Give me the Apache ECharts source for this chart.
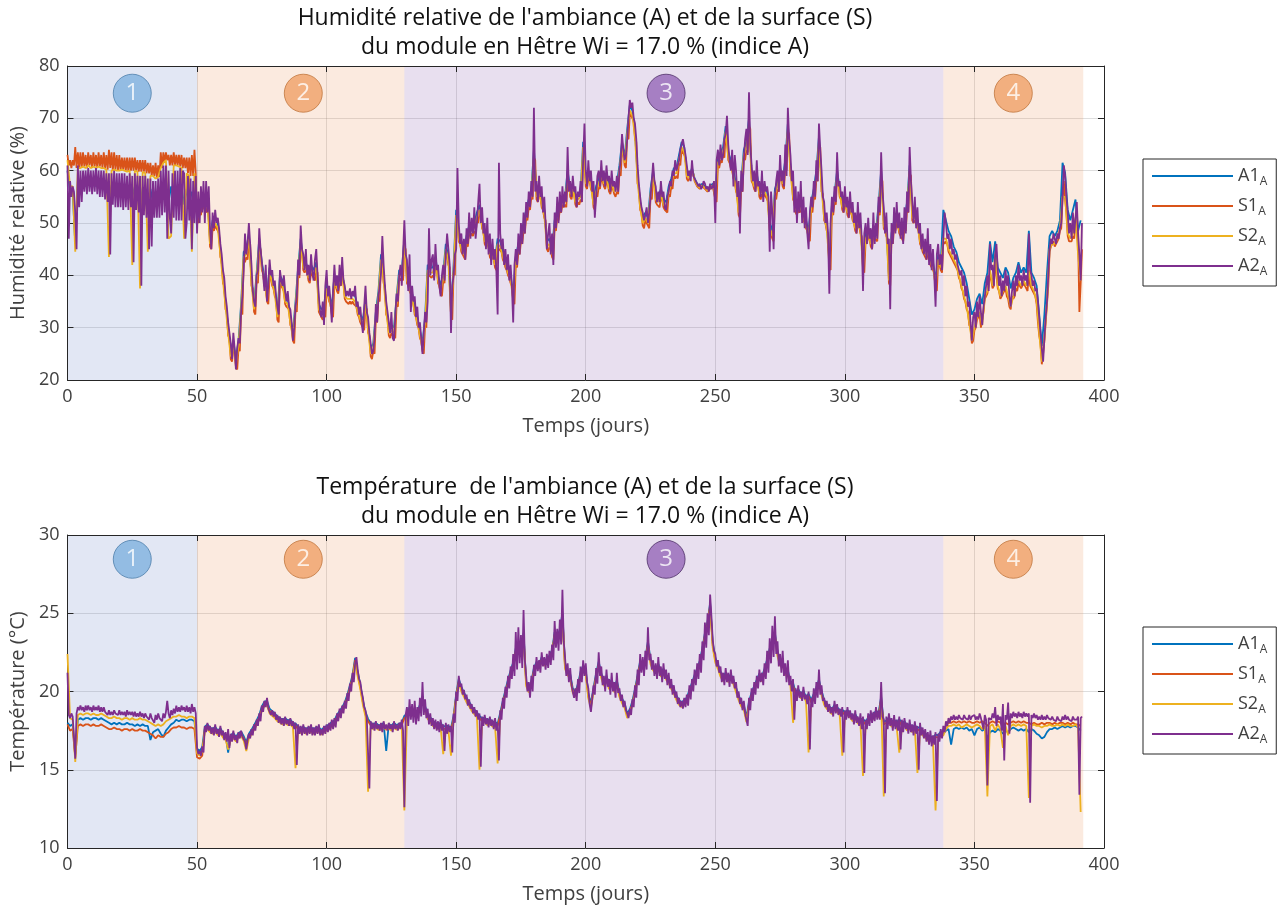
<!DOCTYPE html>
<html>
<head>
<meta charset="utf-8">
<script src="https://cdn.jsdelivr.net/npm/echarts@6/dist/echarts.min.js"></script>
<style>
  html, body { margin: 0; padding: 0; background: #ffffff; }
  #chart { width: 1286px; height: 908px; }
</style>
</head>
<body>
<div id="chart"></div>
<script>
// ---------------------------------------------------------------------------
// Module en Hêtre (Wi = 17.0 %), indice A : ambiance (A1, A2) et surface (S1, S2)
// Daily series, except A2 (and S1 for humidity) which hold two readings per day.
// ---------------------------------------------------------------------------
const seriesNames = ['A1', 'S1', 'S2', 'A2'];
const xTicks = [0, 50, 100, 150, 200, 250, 300, 350, 400];
const humTicks = [20, 30, 40, 50, 60, 70, 80];
const tempTicks = [10, 15, 20, 25, 30];

// Test phases (days)
const phaseLabels = ['1', '2', '3', '4'];
const phaseStart = [0, 50, 130, 338];
const phaseEnd = [50, 130, 338, 392];
const phaseLabelDay = [25, 91, 231, 365];

// Humidité relative (%) — one value per day
const humA1 = [
60,56,56,46,58,56,58.5,57,58.5,57, 58.5,57,58,56.5,58,56,57.5,55.5,57.5,55,
57.5,55,57.5,55,57,55,57,54.5,57,54, 56.5,54,56.5,54,56,54,57,55,58,54,
57,54,57,54,57,53.5,56.5,53.5,56,54, 52,53.5,55,54,54.5,47,50.5,51,50,45,
40,35,30,25.5,27.5,24,27.5,34.5,44.5,45, 48,39.5,34.5,40.5,47,42.5,39.5,36.5,41.5,39.5,
37.5,33,40,39,36,35.5,32,29,35,41.5, 47,42.5,42.5,40.5,42,41,42.5,34.5,33.5,34,
38.5,36.5,34,40,38.5,40,41,37,36.5,36.5, 36.5,36,34,32.5,31.5,35.5,30.5,26,27,33,
37,44,40,34,30,30.5,30,36,41,41, 47,40,38.5,36.5,34,32,29.5,27,32,42,
41.5,41.5,43.5,40,38,40.5,46,43.5,33.5,42, 52.5,48,46,45,47.5,49.5,49.5,50,52,53.5,
50.5,47.5,47.5,45,45,43,47,46.5,44.5,43, 41.5,40,36.5,43.5,46,48,50,52.5,54.5,56.5,
64,56,57,54.5,52.5,46.5,47,45,50.5,52.5, 54,55,55,60,56.5,57.5,55,55.5,56,65.5,
58.5,60,58,54.5,57,58.5,60,58.5,59.5,57.5, 58.5,57,57.5,61,65.5,62.5,68,72.5,71.5,67.5,
59,54,51,52,51,56.5,60,55.5,55,56.5, 54.5,54,57,58.5,60.5,60.5,63,65.5,64.5,60,
59,60.5,58.5,57.5,57,57.5,57,56.5,57,57.5, 56,62.5,63.5,64.5,68.5,63.5,62,60,57.5,53,
58,64,65.5,70,59.5,58,59.5,56.5,57,57, 56,50,48.5,56.5,58,60.5,58.5,62,69,60.5,
56,53.5,54,54,52,50.5,48.5,54,56.5,60, 66.5,57.5,52,50,43,53.5,55.5,60,56.5,54,
55,53,54,52,50,51.5,49.5,42.5,48,49, 47,49,48.5,53.5,60,50.5,49,40,48,50.5,
51.5,49.5,48.5,50.5,54,61,52,52,50.5,47.5, 46,45,45.5,43.5,42.5,39,44,42.5,52.5,50.5,
48.5,47.5,45.5,44.5,42.5,41.5,40.5,38.5,35.5,32.5, 33.5,35.5,36.5,34.5,38.5,40.5,46.5,42.5,46.5,41.5,
40.5,39.5,41.5,40.5,37.5,39.5,40.5,42.5,40.5,41.5, 40.5,48.5,40.5,39.5,38,32.5,26.5,32.5,40.5,47.5,
48.5,47.5,48.5,50.5,61.5,59.5,52.5,50.5,52.5,54.5, 48.5,50.5
];
// two readings per day: day d, then day d + 0.5
const humS1 = [
63,61,62,60.5,62,61,64.5,60.5,63.5,60.5,63.5,60.5,63.5,60.8,63,60.5,63.5,61,63,60.5,
63.5,60.8,63,60.5,63.5,60.8,63,60.5,63.5,60.5,63,60.2,64,60.5,63.5,60,63.5,60.2,63,60,
63,60,62.5,60.2,62.5,60,62.5,59.8,62.5,60,62.5,60,62.5,60,62,59.8,62,59.8,62,59.8,
62,59.5,61.5,59.5,61.5,59,61,59,61.5,58.5,61,58.8,63.5,60.5,63.5,61.5,63.5,62,63,61,
63,61,63.5,61,63,61,63,60.8,63,60.5,62.5,60.5,62.5,59.5,62.5,59,63,59,64,59.5,
50.5,50,52,51.5,53.5,53,52.5,52,53,52.5,45.5,45,49,48.5,49.5,49,48.5,48,43.5,43,
38.5,38,33.5,33,28.5,28,24,23.5,26,25.5,22.5,22,26,25.5,33,32.5,43,42.5,43.5,43,
46.5,46,38,37.5,33,32.5,39,38.5,45.5,45,41,40.5,38,37.5,35,34.5,40,39.5,38,37.5,
36,35.5,31.5,31,38.5,38,37.5,37,34.5,34,34,33.5,30.5,30,27.5,27,33.5,33,40,39.5,
45.5,45,41,40.5,41,40.5,39,38.5,40.5,40,39.5,39,41,40.5,33,32.5,32,31.5,32.5,32,
37,36.5,35,34.5,32.5,32,38.5,38,37,36.5,38.5,38,39.5,39,35.5,35,35,34.5,35,34.5,
35,34.5,34.5,34,32.5,32,31,30.5,30,29.5,34,33.5,29,28.5,24.5,24,25.5,25,31.5,31,
35.5,35,42.5,42,38.5,38,32.5,32,28.5,28,29,28.5,28.5,28,34.5,34,39.5,39,39.5,39,
45.5,45,38.5,38,37,36.5,35,34.5,32.5,32,30.5,30,28,27.5,25.5,25,30.5,30,40.5,40,
40,39.5,40,39.5,42,41.5,38.5,38,36.5,36,39,38.5,44.5,44,42,41.5,32,31.5,40.5,40,
51,50.5,46.5,46,44.5,44,43.5,43,46,45.5,48,47.5,48,47.5,48.5,48,50.5,50,52,51.5,
49,48.5,46,45.5,46,45.5,43.5,43,43.5,43,41.5,41,45.5,45,45,44.5,43,42.5,41.5,41,
40,39.5,38.5,38,35,34.5,42,41.5,44.5,44,46.5,46,48.5,48,51,50.5,53,52.5,55,54.5,
62.5,62,54.5,54,55.5,55,53,52.5,51,50.5,45,44.5,45.5,45,43.5,43,49,48.5,51,50.5,
52.5,52,53.5,53,53.5,53,58.5,58,55,54.5,56,55.5,53.5,53,54,53.5,54.5,54,64,63.5,
57,56.5,58.5,58,56.5,56,53,52.5,55.5,55,57,56.5,58.5,58,57,56.5,58,57.5,56,55.5,
57,56.5,55.5,55,56,55.5,59.5,59,64,63.5,61,60.5,66.5,66,71,70.5,70,69.5,66,65.5,
57.5,57,52.5,52,49.5,49,50.5,50,49.5,49,55,54.5,58.5,58,54,53.5,53.5,53,55,54.5,
53,52.5,52.5,52,55.5,55,57,56.5,59,58.5,59,58.5,61.5,61,64,63.5,63,62.5,58.5,58,
58.5,58.3,60,59.5,58,57.8,57,56.8,56.5,56.5,57,56.8,56.5,56.3,56,56,56.5,56.3,57,56.8,
54.5,54,61,60.5,62,61.5,63,62.5,67,66.5,62,61.5,60.5,60,58.5,58,56,55.5,51.5,51,
56.5,56,62.5,62,64,63.5,68.5,68,58,57.5,56.5,56,58,57.5,55,54.5,55.5,55,55.5,55,
54.5,54,48.5,48,47,46.5,55,54.5,56.5,56,59,58.5,57,56.5,60.5,60,67.5,67,59,58.5,
54.5,54,52,51.5,52.5,52,52.5,52,50.5,50,49,48.5,47,46.5,52.5,52,55,54.5,58.5,58,
65,64.5,56,55.5,50.5,50,48.5,48,41.5,41,52,51.5,54,53.5,58.5,58,55,54.5,52.5,52,
53.5,53,51.5,51,52.5,52,50.5,50,48.5,48,50,49.5,48,47.5,41,40.5,46.5,46,47.5,47,
45.5,45,47.5,47,47,46.5,52,51.5,58.5,58,49,48.5,47.5,47,38.5,38,46.5,46,49,48.5,
50,49.5,48,47.5,47,46.5,49,48.5,52.5,52,59.5,59,50.5,50,50.5,50,49,48.5,46,45.5,
44.5,44,43.5,43,44,43.5,42,41.5,41,40.5,37.5,37,42.5,42,41,40.5,46.5,46,46.5,46,
44.5,44,43.5,43,42.5,42,41.5,41,39.5,39,37.5,37,35.5,35,33.5,33,30.5,30,27,27.5,
29.5,30,31.5,32,32.5,30,30,33,35.5,36,36.5,38,40.5,39,37.5,38,43.5,40,37.5,37,
35.5,36,36.5,37,37.5,36,35.5,34,33.5,36,35.5,36,37.5,37,38.5,38,37.5,37.5,38.5,38,
37.5,37,40.5,38,37.5,37,36.5,36,34.5,31,28.5,27,23,25,27.5,31,34.5,38,44.5,45.5,
45.5,46.5,45.5,46,46.5,47,48.5,49,54.5,58,54.5,52,47.5,46.5,46.5,46.5,47.5,47,50.5,50,
47,33,38.5,45
];
// one value per day
const humS2 = [
62,57,57,44.5,60.5,60.5,60.8,60.5,61,60.5, 60.8,60.5,60.8,60.5,60.5,60.2,43.5,60,60.2,60,
60,60.2,60,59.8,60,42,60,59.8,37.5,59.8, 59.5,44.5,59,59,58.5,58.8,60.5,61.5,62,47,
47.5,61,61,60.8,60.5,47,59.5,59,44.5,59.5, 51,52.5,54,53,53.5,46,49.5,50,49,44,
39,34,29,24.5,26.5,23,26.5,33.5,43.5,44, 47,38.5,33.5,39.5,46,41.5,38.5,35.5,40.5,38.5,
36.5,32,39,38,35,34.5,31,28,34,40.5, 46,41.5,41.5,39.5,41,40,41.5,33.5,32.5,33,
37.5,35.5,33,39,37.5,39,40,36,35.5,35.5, 35.5,35,33,31.5,30.5,34.5,29.5,25,26,32,
36,43,39,33,29,29.5,29,35,40,40, 46,39,37.5,35.5,33,31,28.5,26,31,41,
40.5,40.5,42.5,39,37,39.5,45,42.5,32.5,41, 51.5,47,45,44,46.5,48.5,48.5,49,51,52.5,
49.5,46.5,46.5,44,44,42,46,45.5,43.5,42, 40.5,39,35.5,42.5,45,47,49,51.5,53.5,55.5,
63,55,56,53.5,51.5,45.5,46,44,49.5,51.5, 53,54,54,59,55.5,56.5,54,54.5,55,64.5,
57.5,59,57,53.5,56,57.5,59,57.5,58.5,56.5, 57.5,56,56.5,60,64.5,61.5,67,71.5,70.5,66.5,
58,53,50,51,50,55.5,59,54.5,54,55.5, 53.5,53,56,57.5,59.5,59.5,62,64.5,63.5,59,
58.7,60.2,58.2,57.2,56.7,57.2,56.7,56.2,56.7,57.2, 55,61.5,62.5,63.5,67.5,62.5,61,59,56.5,52,
57,63,64.5,69,58.5,57,58.5,55.5,56,56, 55,49,47.5,55.5,57,59.5,57.5,61,68,59.5,
55,52.5,53,53,51,49.5,47.5,53,55.5,59, 65.5,56.5,51,49,42,52.5,54.5,59,55.5,53,
54,52,53,51,49,50.5,48.5,41.5,47,48, 46,48,47.5,52.5,59,49.5,48,39,47,49.5,
50.5,48.5,47.5,49.5,53,60,51,51,49.5,46.5, 45,44,44.5,42.5,41.5,38,43,41.5,47,47,
45,44,43,42,40,38,36,34,31,27.5, 30,32,33,30.5,36,37,41,38,44,38,
36,37,38,36,34,36,38,39,38,39, 38,41,38,37,35,29,23.5,28,35,45,
46,46,47,49,55,55,48,47,48,51, 44,39
];
// two readings per day: day d, then day d + 0.5
const humA2 = [
61,47,58,55,57,56,52,45,61,53,60,54,60,56,60,55.5,60.5,56,60,55.5,
60,56,60.5,55.5,60,55,60,55,60,54.5,59.5,54,59.5,44,59.5,53.5,60,53,59.5,53,
59.5,53,59.5,52.5,59.5,53,59,52.5,59.5,53,59,42.5,59.5,52.5,59,52,59,38,59,51.5,
59,51,58.5,45,58.5,45.5,58,51,58,51,58.5,51,60,51.5,61,52,61,47,60,51,
48,59.5,51,60,50.5,60,50.5,60.5,50.5,60,59.5,47,50,59,50.5,58.5,45,58,50,59,
48,56,50,57,52,58,50,58,52,57,49,45,52,49,52.5,50,51,49,46,44,
41,39.5,36,34,31,29,27,24,29,26,22,26,28,27,33,36,41,48,44,46,
50,46,42,37,35,34,40,41,49,45,45,40,37,42,35,38,43,40,41,38,
39,36,34,32.5,41,39,38,40,37,35,37,34,33.5,31,27.5,30,34,36,43,40,
49.5,45,44,41,45,40,42,39,44,40.5,39,43,45,40,36,33,32,35,30.5,38,
41,36,38,35,31,37,42,38,40,37,42,38,43.5,39,38,36,37,36,37.5,35.5,
37,36,38,34,35,32.5,34,31,29,34,38,33,32,29,27,25,25.5,28,34.5,31,
36,38,40.5,47.5,42,38,35,33,31,29,33,28,27.5,32,36.5,35,40,42,38,44,
50.5,44,43,37,44,33,38,35,36,32,34,30,31,28,25,29,33,31,35,49,
40,43,44,39,46,41,42,38,36,40,42,39,44,48,45,42,29,38,40,44,
45,60.5,50,46,48,44,47,43,49,46,52,47,51,48,53,47,50,54,57.5,50,
53,48,50,45,51,44,48,42,47,43,45,41,32.5,61.5,48,45,47,42,45,41,
44,39,42,38,31,42,45,42,48,44,50,46,52,48,54,51,56,53,58,55,
72,56,58,54,59,55,57,52,55,50,45,48,50,44,48,42,52,49,55,50,
56,52,57,53,56,54,64.5,56,58,55,59,56,57,53,56,55,58,54,62,69,
60,57,62,58,60,56,58,51,55,59,60,57,62,58,60,57,61,58,59,56,
60,57,58,56,59,56,60,62,67,64,62,63,66,70,73.5,72,73,70,69,66,
61,57.5,55,53,52,50.5,51.5,53,50,52,55,58,61.5,58,57,54,56,54,58,55,
56,53,52.5,55,56,58,57,60,59,62,60,61,62,64,65,66,66,63,61,59,
60,58,62,59,59,58,58,57,57.5,56.5,57,58,57.5,56.5,57,56,57.5,56.5,57,58,
50,62,64,61,65,62,63,66,67,70.5,65,62,60,64,57,63,60,55,58,48,
60,56,62,66,68,63,75,65,61,58,60,56,62,57,58,55,60,54,58,56,
57,55,44.5,56,52,45,55,58,60,56,63,58,60,57,65,59,72,66,63,58,
60,52,57,50,56,52,58,50,55,49,53,48,45,52,55,53,58,55,62,58,
69,64,60,55,54,50,52,48,36.5,50,55,52,57,54,63.5,57,58,55,56,52,
57,53,55,51,56,52,54,50,52,48,54,49,52,47,37,48,50,46,51,47,
49,45,52,46,50,47,55,52,63.5,56,53,48,52,46,47,33.5,50,46,53,48,
54,49,52,47,51,46,53,48,56,52,64.5,58,54,50,55,49,53,48,50,45,
48,44,47,43,49,42,46,41,45,40,34,44,46,42,44,41,47,52,50,47,
48,45,47,44,45,43,44,42,42,40,41,38,40,36,38,34,35,31,27.5,32,
33,30,35,32,36,33,30.5,34,36,38,40,37,46,41,42,38,44,46,41,38,
40,36,39,37,41,38,40,36,34,37,39,36,40,38,42,39,40,38,41,39,
40,38,48,41,40,38,39,37,37.5,35,32,29,26,23.5,28,32,35,40,45,47,
46,48,47,46,48,47,49,50,55,61,59,55,52,48,50,47,52,48,51,54,
48,44,39,50
];

// Température (°C) — one value per day
const tempA1 = [
18.0,17.8,17.9,16.0,18.2,18.3,18.2,18.3,18.3,18.2, 18.3,18.3,18.2,18.3,18.2,18.1,18.0,17.9,18.0,17.9,
18.0,17.9,17.9,18.0,17.9,17.9,17.8,17.9,17.8,17.9, 17.8,17.8,16.9,17.4,17.5,17.6,17.3,17.1,17.5,17.7,
17.9,18.0,18.2,18.1,18.2,18.2,18.1,18.2,18.2,18.1, 16.35,16.2,16.45,17.75,17.9,17.7,17.6,17.75,17.5,17.65,
17.35,17.25,16.1,17.2,17.35,17.1,17.35,17.45,17.15,16.75, 17.3,17.55,17.85,18.15,18.5,19.05,19.35,19.4,18.9,18.75,
18.6,18.4,18.3,18.2,18.3,18.15,18.2,18.0,17.95,17.75, 17.65,17.75,17.6,17.7,17.7,17.6,17.7,17.7,17.55,17.7,
17.8,17.9,18.05,18.15,18.5,18.75,19.0,19.3,19.8,20.4, 21.05,22.15,21.25,20.45,19.45,18.7,18.25,18.0,17.9,18.0,
17.85,17.85,18.0,16.2,17.95,17.8,18.0,17.85,17.95,18.0, 18.45,18.55,19.0,18.75,18.8,18.7,19.15,19.7,19.05,18.55,
18.35,18.1,18.0,17.9,18.0,17.75,17.8,17.8,17.65,18.45, 19.85,20.8,20.3,19.95,19.6,19.35,19.05,18.85,18.65,18.45,
18.25,18.35,18.15,18.25,18.05,18.05,17.95,18.65,19.4,20.1, 20.75,21.35,21.85,22.75,23.1,22.7,23.75,20.65,20.25,20.65,
21.5,21.9,21.75,22.2,21.95,22.1,22.3,22.65,23.8,23.45, 23.95,25.0,21.75,21.35,21.1,20.2,19.95,20.5,21.25,21.65,
21.35,19.85,19.25,20.25,21.15,21.9,21.15,20.65,21.0,20.45, 20.75,20.25,20.7,19.95,19.55,19.25,18.6,18.85,19.4,20.15,
21.05,21.95,21.75,22.15,23.2,22.05,21.65,21.45,21.75,21.25, 21.45,21.05,20.85,20.45,20.15,19.75,19.45,19.3,19.45,19.6,
20.1,20.55,21.05,21.45,21.95,22.75,23.75,24.45,25.65,23.1, 22.15,21.75,21.25,20.95,21.2,20.9,21.1,20.75,20.25,19.75,
19.35,19.15,18.35,19.35,19.95,20.35,20.75,21.15,20.95,21.45, 22.05,22.75,23.35,23.75,22.55,21.95,21.95,21.35,21.35,20.65,
20.55,19.95,20.15,19.85,20.05,19.65,19.85,19.45,19.85,20.25, 20.75,20.05,19.45,19.2,19.05,18.85,19.15,19.0,18.8,18.85,
18.65,18.8,18.65,18.4,18.55,18.25,18.25,18.25,18.05,18.35, 18.55,18.55,18.75,18.65,19.65,18.05,18.15,18.35,18.05,18.2,
18.0,18.25,17.95,18.1,17.8,17.95,17.7,17.85,17.65,17.75, 17.5,17.35,17.15,17.15,17.05,17.25,17.2,17.45,17.3,17.5,
17.6,16.6,17.6,17.7,17.6,17.7,17.6,17.7,17.5,17.6, 17.2,17.6,17.7,17.5,17.6,17.0,17.4,17.5,17.4,17.6,
17.5,17.3,17.5,17.4,17.6,17.7,17.6,17.5,17.6,17.5, 17.6,17.4,17.6,17.5,17.3,17.2,17.0,17.1,17.4,17.6,
17.6,17.7,17.6,17.7,17.8,17.7,17.8,17.7,17.8,17.8, 17.7,17.5
];
const tempS1 = [
17.9,17.5,17.6,15.8,17.8,17.9,17.8,17.9,17.9,17.8, 17.9,17.8,17.8,17.9,17.8,17.7,17.6,17.6,17.7,17.6,
17.6,17.5,17.6,17.6,17.5,17.6,17.5,17.5,17.6,17.5, 17.5,17.4,17.3,17.2,17.0,17.2,17.1,17.1,17.3,17.4,
17.6,17.7,17.7,17.8,17.7,17.7,17.6,17.7,17.7,17.6, 15.8,15.7,15.9,17.6,17.75,17.55,17.45,17.6,17.35,17.5,
17.2,17.1,17.0,17.05,17.2,16.95,17.2,17.3,17.0,16.6, 17.15,17.4,17.7,18.0,18.35,18.9,19.2,19.25,18.75,18.6,
18.45,18.25,18.15,18.05,18.15,18.0,18.05,17.85,17.8,17.6, 17.5,17.6,17.45,17.55,17.55,17.45,17.55,17.55,17.4,17.55,
17.65,17.75,17.9,18.0,18.35,18.6,18.85,19.15,19.65,20.25, 20.9,22.0,21.1,20.3,19.3,18.55,18.1,17.85,17.75,17.85,
17.7,17.7,17.85,17.7,17.8,17.65,17.85,17.7,17.8,17.85, 18.3,18.4,18.85,18.6,18.65,18.55,19.0,19.55,18.9,18.4,
18.2,17.95,17.85,17.75,17.85,17.6,17.65,17.65,17.5,18.3, 19.7,20.65,20.15,19.8,19.45,19.2,18.9,18.7,18.5,18.3,
18.1,18.2,18.0,18.1,17.9,17.9,17.8,18.5,19.25,19.95, 20.6,21.2,21.7,22.6,22.95,22.55,23.6,20.5,20.1,20.5,
21.35,21.75,21.6,22.05,21.8,21.95,22.15,22.5,23.65,23.3, 23.8,24.85,21.6,21.2,20.95,20.05,19.8,20.35,21.1,21.5,
21.2,19.7,19.1,20.1,21.0,21.75,21.0,20.5,20.85,20.3, 20.6,20.1,20.55,19.8,19.4,19.1,18.45,18.7,19.25,20.0,
20.9,21.8,21.6,22.0,23.05,21.9,21.5,21.3,21.6,21.1, 21.3,20.9,20.7,20.3,20.0,19.6,19.3,19.15,19.3,19.45,
19.95,20.4,20.9,21.3,21.8,22.6,23.6,24.3,25.5,22.95, 22.0,21.6,21.1,20.8,21.05,20.75,20.95,20.6,20.1,19.6,
19.2,19.0,18.2,19.2,19.8,20.2,20.6,21.0,20.8,21.3, 21.9,22.6,23.2,23.6,22.4,21.8,21.8,21.2,21.2,20.5,
20.4,19.8,20.0,19.7,19.9,19.5,19.7,19.3,19.7,20.1, 20.6,19.9,19.3,19.05,18.9,18.7,19.0,18.85,18.65,18.7,
18.5,18.65,18.5,18.25,18.4,18.1,18.1,18.1,17.9,18.2, 18.4,18.4,18.6,18.5,19.5,17.9,18.0,18.2,17.9,18.05,
17.85,18.1,17.8,17.95,17.65,17.8,17.55,17.7,17.5,17.6, 17.35,17.2,17.0,17.0,16.9,17.1,17.05,17.3,17.4,17.8,
18.0,18.0,18.1,18.0,18.1,18.0,18.1,18.0,18.1,18.0, 18.0,18.1,18.0,18.1,18.0,17.8,18.0,18.1,18.0,18.1,
18.0,17.8,18.0,17.9,18.0,18.1,18.0,18.1,18.0,18.1, 18.0,18.0,17.9,18.0,17.9,17.9,18.0,17.9,18.0,18.0,
17.9,18.0,17.9,18.0,18.0,17.9,18.0,17.9,18.0,17.9, 17.9,17.8
];
const tempS2 = [
22.4,18.3,18.2,15.5,18.5,18.6,18.5,18.6,18.6,18.5, 18.6,18.5,18.5,18.6,18.5,18.4,18.3,18.3,18.4,18.3,
18.3,18.2,18.3,18.3,18.2,18.3,18.2,18.2,18.3,18.2, 18.2,18.1,18.0,17.9,17.8,17.9,17.8,17.9,18.1,18.2,
18.3,18.4,18.4,18.5,18.4,18.4,18.3,18.4,18.4,18.3, 16.05,15.9,16.15,17.45,17.6,17.4,17.3,17.45,17.2,17.35,
17.05,16.95,16.3,16.9,17.05,16.8,17.05,17.15,16.85,16.2, 17.0,17.25,17.55,17.85,18.2,18.75,19.05,19.1,18.6,18.45,
18.3,18.1,18.0,17.9,18.0,17.85,17.9,17.7,15.1,17.45, 17.35,17.45,17.3,17.4,17.4,17.3,17.4,17.4,17.25,17.4,
17.5,17.6,17.75,17.85,18.2,18.45,18.7,19.0,19.5,20.1, 20.75,21.85,20.95,20.15,19.15,18.4,13.6,17.7,17.6,17.7,
17.55,17.55,17.7,17.55,17.65,17.5,17.7,17.55,17.65,17.7, 12.4,18.25,18.7,18.45,18.5,18.4,18.85,19.4,18.75,18.25,
18.05,17.8,17.7,17.6,17.7,16.0,17.5,17.5,15.9,18.15, 19.55,20.5,20.0,19.65,19.3,19.05,18.75,18.55,18.35,15.0,
17.95,18.05,17.85,17.95,17.75,17.75,15.4,18.35,19.1,19.8, 20.45,21.05,21.55,22.45,22.8,22.4,23.45,20.35,19.95,20.35,
21.2,21.6,21.45,21.9,21.65,21.8,22.0,22.35,23.5,23.15, 23.65,24.7,21.45,21.05,20.8,19.9,19.65,20.2,20.95,21.35,
21.05,19.55,18.95,19.95,20.85,21.6,20.85,20.35,20.7,20.15, 20.45,19.95,20.4,19.65,19.25,18.95,18.3,18.55,19.1,19.85,
20.75,21.65,21.45,21.85,22.9,21.75,21.35,21.15,21.45,20.95, 21.15,20.75,20.55,20.15,19.85,19.45,19.15,19.0,19.15,19.3,
19.8,20.25,20.75,21.15,21.65,22.45,23.45,24.15,25.35,22.8, 21.85,21.45,20.95,20.65,20.9,20.6,20.8,20.45,19.95,19.45,
19.05,18.85,18.05,19.05,19.65,20.05,20.45,20.85,20.65,21.15, 21.75,22.45,23.05,23.45,22.25,21.65,21.65,21.05,21.05,20.35,
18.0,19.65,19.85,19.55,19.75,19.35,16.1,19.15,19.55,19.95, 20.45,19.75,19.15,18.9,18.75,18.55,18.85,18.7,18.5,15.9,
18.35,18.5,18.35,18.1,18.25,17.95,17.95,14.6,17.75,18.05, 18.25,18.25,18.45,18.35,19.35,13.3,17.85,18.05,17.75,17.9,
17.7,16.1,17.65,17.8,17.5,17.65,17.4,17.55,14.8,17.45, 17.2,17.05,16.85,16.85,16.75,12.4,16.9,17.15,17.2,17.6,
17.8,17.8,17.9,17.8,17.9,17.7,17.8,17.9,17.8,17.7, 17.8,17.9,17.8,17.6,17.8,13.3,17.8,17.9,17.5,17.9,
17.6,16.4,17.8,17.2,17.8,17.9,17.8,17.9,17.8,17.9, 17.8,13.2,17.8,17.9,17.8,17.8,17.7,17.8,17.8,17.9,
17.8,17.8,17.9,17.8,17.9,17.8,17.9,17.8,17.8,17.9, 17.7,12.3
];
// two readings per day: day d, then day d + 0.5
const tempA2 = [
21.2,18.5,18.3,18.6,18.4,18.5,15.7,18.6,19.0,18.8,19.1,18.8,19.0,18.7,19.1,18.8,19.1,18.8,19.0,18.7,
19.1,18.8,19.0,18.8,19.1,18.7,19.0,18.7,19.0,18.7,18.8,18.5,18.8,18.5,18.7,18.5,18.8,18.6,18.7,18.5,
18.8,18.5,18.7,18.5,18.7,18.4,18.8,18.5,18.7,18.5,18.7,18.4,18.7,18.4,18.6,18.4,18.7,18.4,18.6,18.3,
18.6,18.4,18.5,18.2,18.6,18.3,18.3,18.0,18.5,18.2,18.6,18.3,18.4,18.1,18.6,18.3,18.7,19.4,18.6,18.3,
18.8,18.5,18.9,18.6,19.1,18.7,19.0,18.7,19.1,18.8,19.0,18.7,19.1,18.7,19.0,18.6,19.2,18.7,19.0,18.6,
16.4,16.0,16.2,15.9,16.5,16.1,17.8,17.4,18.0,17.5,17.8,17.3,17.7,17.2,17.9,17.3,17.6,17.1,17.8,17.2,
17.5,16.9,17.4,16.8,17.6,16.4,17.3,16.8,17.5,16.9,17.2,16.7,17.4,17.0,17.5,17.1,17.2,16.8,16.3,16.9,
17.3,17.0,17.6,17.2,17.9,17.5,18.2,17.8,18.6,18.1,19.1,18.7,19.4,19.0,19.6,18.9,19.0,18.5,18.8,18.4,
18.7,18.2,18.5,18.0,18.4,17.9,18.3,17.8,18.4,17.9,18.2,17.8,18.3,17.8,18.1,17.6,18.0,15.3,17.9,17.3,
17.8,17.2,17.9,17.3,17.7,17.2,17.8,17.3,17.9,17.2,17.7,17.2,17.8,17.3,17.9,17.2,17.6,17.2,17.8,17.3,
17.9,17.4,18.0,17.5,18.2,17.6,18.3,17.7,18.6,18.1,18.9,18.3,19.1,18.6,19.4,18.9,19.9,19.4,20.5,20.0,
21.2,20.6,21.8,22.2,21.4,20.8,20.6,20.0,19.6,19.0,18.8,18.3,18.3,13.8,18.1,17.6,18.0,17.5,18.1,17.6,
17.9,17.5,18.0,17.4,18.1,17.6,17.9,17.5,18.0,17.6,17.9,17.4,18.1,17.6,17.9,17.5,18.0,17.6,18.2,17.5,
12.6,18.5,19.0,17.8,19.5,18.2,19.2,18.0,19.4,17.9,19.0,18.1,19.6,18.4,20.6,18.5,19.5,18.3,18.9,17.9,
18.6,17.8,18.3,17.6,18.2,17.5,18.1,17.4,18.2,17.5,17.9,16.2,18.0,17.3,17.9,17.4,17.8,16.1,18.6,18.0,
20.0,19.4,21.0,20.3,20.5,19.8,20.1,19.5,19.8,19.1,19.5,18.9,19.2,18.6,19.0,18.4,18.8,18.2,18.6,15.2,
18.4,17.8,18.5,17.9,18.3,17.7,18.4,17.8,18.2,17.6,18.3,17.5,18.0,15.6,18.8,18.2,19.6,18.9,20.3,19.6,
21.0,20.2,21.6,20.8,22.4,21.0,23.8,21.4,24.1,21.8,23.6,21.5,25.2,22.0,21.0,20.0,20.6,19.6,21.0,20.0,
21.7,21.0,22.2,21.3,22.0,21.2,22.5,21.6,22.2,21.4,22.4,21.5,22.6,21.7,23.0,22.0,24.5,22.8,24.0,22.6,
24.6,23.0,26.5,23.2,22.2,21.0,21.8,20.6,21.5,20.4,20.5,19.6,20.2,19.4,20.8,19.9,21.6,20.6,22.0,21.0,
21.8,20.6,20.2,19.2,18.7,19.5,20.4,19.8,21.5,20.5,22.5,21.0,21.6,20.4,21.0,20.0,21.4,20.3,20.8,19.8,
21.2,20.0,20.6,19.6,21.2,19.9,20.2,19.4,19.8,19.0,19.4,18.8,18.6,18.3,18.9,18.5,19.5,19.0,20.4,19.6,
21.4,20.4,22.4,21.2,22.2,21.0,22.6,21.4,24.1,22.0,22.4,21.4,22.0,21.0,21.8,20.8,22.2,21.0,21.6,20.6,
21.8,20.8,21.4,20.4,21.2,20.2,20.8,19.8,20.4,19.6,20.0,19.2,19.6,19.0,19.4,18.9,19.6,19.0,19.8,19.1,
20.4,19.5,20.8,20.0,21.4,20.4,21.8,20.8,22.4,21.2,23.2,22.0,24.4,22.8,25.0,23.6,26.2,24.8,23.3,22.6,
22.4,21.6,22.0,21.2,21.6,20.6,21.2,20.4,21.5,20.6,21.2,20.3,21.4,20.5,21.0,20.2,20.6,19.6,20.0,19.2,
19.6,18.8,19.4,18.6,18.6,17.8,19.6,18.8,20.2,19.4,20.6,19.8,21.0,20.2,21.4,20.6,21.2,20.4,21.8,20.8,
22.6,21.2,23.4,21.8,24.2,22.2,24.8,22.4,23.2,21.6,22.4,21.2,22.6,21.0,21.8,20.6,22.0,20.4,21.0,20.0,
20.8,18.2,20.2,19.4,20.4,19.6,20.0,19.4,20.3,19.5,19.8,19.2,20.0,16.3,19.6,19.0,20.2,19.2,20.6,19.6,
21.4,19.8,20.4,19.4,19.6,19.0,19.4,18.7,19.2,18.6,19.0,18.4,19.4,18.6,19.2,18.5,18.9,18.4,19.0,16.1,
18.8,18.2,19.0,18.3,18.8,18.2,18.6,17.9,18.8,18.0,18.4,17.8,18.6,17.6,18.4,14.8,18.2,17.6,18.6,17.8,
18.8,18.0,18.7,18.1,19.0,18.2,18.8,18.2,20.6,18.4,18.2,13.5,18.4,17.6,18.6,17.8,18.3,17.5,18.5,17.6,
18.2,17.5,18.4,16.3,18.2,17.4,18.3,17.6,18.0,17.3,18.2,17.4,17.9,17.2,18.1,17.3,17.8,15.0,18.0,17.2,
17.7,17.0,17.6,16.8,17.4,16.6,17.5,16.5,17.2,16.6,17.4,13.0,17.3,16.8,17.6,17.0,17.8,17.4,18.1,17.8,
18.3,18.0,18.4,18.2,18.5,18.2,18.4,18.2,18.5,18.3,18.4,18.2,18.5,18.3,18.4,18.2,18.5,18.2,18.4,18.3,
18.5,18.2,18.4,18.2,18.6,18.3,18.4,17.6,18.5,18.2,14.0,18.3,18.4,18.2,18.6,18.3,19.0,17.8,18.5,18.2,
18.4,17.5,19.2,15.6,18.5,18.2,19.3,17.3,18.6,18.3,18.7,18.4,18.6,18.3,18.7,18.4,18.6,18.3,18.7,18.4,
18.6,18.4,18.6,12.9,18.5,18.3,18.6,18.3,18.5,18.2,18.4,18.2,18.5,18.2,18.4,18.2,18.5,18.3,18.4,18.2,
18.4,18.2,18.3,18.1,18.4,18.2,18.3,18.1,18.4,18.2,18.5,18.2,18.4,18.2,18.3,18.1,18.4,18.2,18.3,18.2,
18.4,13.4,18.3,18.4
];

// ---------------------------------------------------------------------------
const FONT = '"Open Sans", "Noto Sans", sans-serif';
const INK = '#262626';
const LABEL = '#404040';
const lineColors = { A1: '#0072BD', S1: '#D95319', S2: '#EDB120', A2: '#7E2F8E' };
const phaseFill = ['rgba(110,135,200,0.2)', 'rgba(235,150,95,0.2)', 'rgba(140,95,175,0.2)', 'rgba(235,150,95,0.2)'];
const badgeFill = ['#80b1de', '#f0a066', '#9566b8', '#f0a066'];
const badgeEdge = ['#4f7fab', '#c0773e', '#4f2f68', '#c0773e'];

const panels = [
  {
    title: "Humidité relative de l'ambiance (A) et de la surface (S)\ndu module en Hêtre Wi = 17.0 % (indice A)",
    yName: 'Humidité relative (%)', ticks: humTicks, top: 66, height: 314, badgeY: 74.8, legendTop: 159,
    values: { A1: humA1, S1: humS1, S2: humS2, A2: humA2 },
    step: { A1: 1, S1: 0.5, S2: 1, A2: 0.5 }
  },
  {
    title: "Température  de l'ambiance (A) et de la surface (S)\ndu module en Hêtre Wi = 17.0 % (indice A)",
    yName: 'Température (°C)', ticks: tempTicks, top: 535, height: 313, badgeY: 28.45, legendTop: 627,
    values: { A1: tempA1, S1: tempS1, S2: tempS2, A2: tempA2 },
    step: { A1: 1, S1: 1, S2: 1, A2: 0.5 }
  }
];

const PLOT_LEFT = 66, PLOT_WIDTH = 1038;

const grid = [], xAxis = [], yAxis = [], series = [], legend = [], graphic = [];

panels.forEach((p, k) => {
  grid.push({ left: PLOT_LEFT, top: p.top, width: PLOT_WIDTH, height: p.height, containLabel: false });
  const xi = 2 * k, yi = 2 * k;
  const xBase = {
    type: 'value', gridIndex: k, min: xTicks[0], max: xTicks[xTicks.length - 1],
    interval: xTicks[1] - xTicks[0], z: 1,
    axisLine: { show: true, onZero: false, lineStyle: { color: INK, width: 1 } },
    axisTick: { show: true, inside: true, length: 6, lineStyle: { color: INK } }
  };
  xAxis.push(Object.assign({}, xBase, {
    position: 'bottom',
    axisLabel: { fontFamily: FONT, fontSize: 18, color: LABEL, margin: 8 },
    splitLine: { show: true, lineStyle: { color: 'rgba(0,0,0,0.13)', width: 1 } },
    name: 'Temps (jours)', nameLocation: 'middle', nameGap: 36,
    nameTextStyle: { fontFamily: FONT, fontSize: 20, color: LABEL }
  }));
  xAxis.push(Object.assign({}, xBase, {
    position: 'top', axisLabel: { show: false }, splitLine: { show: false }
  }));
  const t = p.ticks;
  const yBase = {
    type: 'value', gridIndex: k, min: t[0], max: t[t.length - 1], interval: t[1] - t[0], z: 1,
    axisLine: { show: true, onZero: false, lineStyle: { color: INK, width: 1 } },
    axisTick: { show: true, inside: true, length: 6, lineStyle: { color: INK } }
  };
  yAxis.push(Object.assign({}, yBase, {
    position: 'left',
    axisLabel: { fontFamily: FONT, fontSize: 18, color: LABEL, margin: 8 },
    splitLine: { show: true, lineStyle: { color: 'rgba(0,0,0,0.13)', width: 1 } },
    name: p.yName, nameLocation: 'middle', nameGap: 32, nameRotate: 90,
    nameTextStyle: { fontFamily: FONT, fontSize: 20, color: LABEL }
  }));
  yAxis.push(Object.assign({}, yBase, {
    position: 'right', axisLabel: { show: false }, splitLine: { show: false }
  }));

  // phase bands
  series.push({
    type: 'line', xAxisIndex: xi, yAxisIndex: yi, data: [], silent: true, z: 0,
    markArea: {
      silent: true,
      data: phaseStart.map((s, i) => [
        { xAxis: s, itemStyle: { color: phaseFill[i], borderWidth: 0 } },
        { xAxis: phaseEnd[i] }
      ])
    }
  });

  // measured series
  seriesNames.forEach(name => {
    const vals = p.values[name];
    const step = p.step[name];
    series.push({
      name, type: 'line', xAxisIndex: xi, yAxisIndex: yi, z: 2,
      data: vals.map((v, i) => [i * step, v]),
      showSymbol: false, symbol: 'none', animation: false,
      lineStyle: { color: lineColors[name], width: 1.8 },
      itemStyle: { color: lineColors[name] },
      emphasis: { disabled: true }
    });
  });

  // phase numbers
  series.push({
    type: 'scatter', xAxisIndex: xi, yAxisIndex: yi, z: 4, silent: true, animation: false,
    symbolSize: 38,
    data: phaseLabels.map((lab, i) => ({
      value: [phaseLabelDay[i], p.badgeY],
      itemStyle: { color: badgeFill[i], borderColor: badgeEdge[i], borderWidth: 1 },
      label: { show: true, formatter: lab, position: 'inside', color: '#ffffff',
               fontFamily: FONT, fontSize: 24 }
    }))
  });

  legend.push({
    data: seriesNames, orient: 'vertical', left: 1143, top: p.legendTop,
    padding: [8, 9, 8, 9], itemGap: 9, itemWidth: 81, itemHeight: 2, icon: 'rect',
    borderColor: INK, borderWidth: 1, backgroundColor: '#ffffff',
    selectedMode: false,
    formatter: n => '{n|' + n + '}{s|A}',
    textStyle: {
      rich: {
        n: { fontFamily: FONT, fontSize: 18, color: LABEL, lineHeight: 24, verticalAlign: 'middle' },
        s: { fontFamily: FONT, fontSize: 12, color: LABEL, lineHeight: 24, verticalAlign: 'bottom' }
      }
    }
  });

  graphic.push({
    type: 'text', x: PLOT_LEFT + PLOT_WIDTH / 2, y: p.top - 62,
    style: { text: p.title, fill: '#111111', fontFamily: FONT, fontSize: 23, lineHeight: 29,
             align: 'center', verticalAlign: 'top' }
  });
});

const chart = echarts.init(document.getElementById('chart'), null, { renderer: 'canvas' });
chart.setOption({
  backgroundColor: '#ffffff',
  animation: false,
  grid, xAxis, yAxis, series, legend, graphic
});
</script>
</body>
</html>
